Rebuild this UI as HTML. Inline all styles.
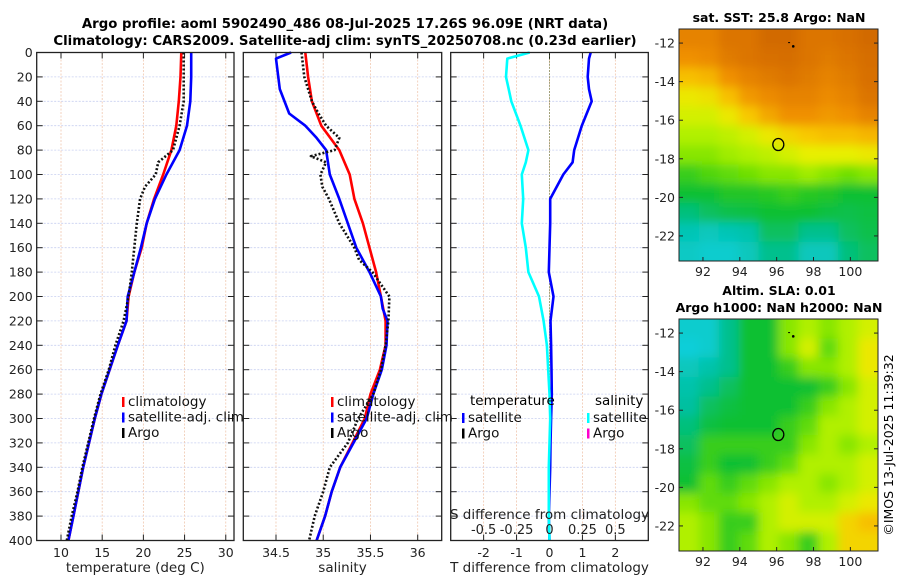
<!DOCTYPE html>
<html><head><meta charset="utf-8">
<style>
html,body{margin:0;padding:0;background:#fff;}
svg{display:block;font-family:"DejaVu Sans","Liberation Sans",sans-serif;}
</style></head>
<body>
<svg id="fig" width="900" height="580" viewBox="0 0 900 580" xmlns="http://www.w3.org/2000/svg">
<text x="345" y="28" text-anchor="middle" font-size="13.3" font-weight="bold">Argo profile: aoml 5902490_486 08-Jul-2025 17.26S 96.09E (NRT data)</text>
<text x="345" y="45" text-anchor="middle" font-size="13.3" font-weight="bold">Climatology: CARS2009. Satellite-adj clim: synTS_20250708.nc (0.23d earlier)</text>
<text x="779" y="22" text-anchor="middle" font-size="12.5" font-weight="bold">sat. SST: 25.8 Argo: NaN</text>
<text x="779" y="295" text-anchor="middle" font-size="12.5" font-weight="bold">Altim. SLA: 0.01</text>
<text x="779" y="312" text-anchor="middle" font-size="12.5" font-weight="bold">Argo h1000: NaN h2000: NaN</text>
<text transform="translate(893,445) rotate(-90)" text-anchor="middle" font-size="12.5">©IMOS 13-Jul-2025 11:39:32</text>
</svg>
<script>
// ---- data ----
const depthTicks = [0,20,40,60,80,100,120,140,160,180,200,220,240,260,280,300,320,340,360,380,400];
const tempTicks = [10,15,20,25,30];
const salTicks = [34.5,35,35.5,36];
const diffTTicks = [-2,-1,0,1,2];
const diffSTickLabels = ['-0.5','-0.25','0','0.25','0.5'];
const diffSTicks = [-0.5,-0.25,0,0.25,0.5];

const climDepth = [0,20,40,60,80,100,120,140,160,180,200,220,240,260,280,300,320,340,360,380,400];
const tempClim = [24.6,24.5,24.3,24.0,23.4,22.4,21.3,20.4,19.8,18.9,18.2,17.95,16.9,15.9,14.9,14.1,13.4,12.7,12.1,11.5,10.9];
const tempSat  = [25.8,25.8,25.7,25.3,24.4,22.8,21.4,20.4,19.7,18.9,18.1,17.95,16.9,15.9,14.9,14.1,13.4,12.7,12.1,11.5,10.9];
const argoTDepth = [0,20,40,60,80,90,100,110,120,140,160,180,200,220,240,260,280,300,320,340,360,380,400];
const tempArgo = [24.9,24.9,24.9,24.4,23.6,21.8,21.5,20.2,19.6,19.2,18.9,18.6,18.2,17.6,16.6,15.8,14.8,14.0,13.3,12.6,12.0,11.3,10.7];

const salClim = [34.81,34.84,34.88,34.98,35.17,35.28,35.33,35.42,35.49,35.56,35.61,35.66,35.66,35.60,35.50,35.44,35.31,35.18,35.09,35.02,34.93];
const salDepthSat = [0,5,30,50,60,70,80,100,120,140,160,180,200,210,220,240,260,280,300,320,340,360,380,400];
const salSat = [34.66,34.50,34.54,34.64,34.81,34.93,35.03,35.07,35.17,35.26,35.35,35.49,35.61,35.63,35.68,35.67,35.62,35.53,35.46,35.32,35.18,35.09,35.02,34.93];
const argoSDepth = [0,20,40,50,60,70,80,85,90,100,110,120,140,160,170,180,200,220,240,260,280,300,320,340,360,380,400];
const salArgo = [34.77,34.80,34.88,34.95,35.03,35.17,35.12,34.87,35.03,34.97,34.99,35.06,35.17,35.33,35.38,35.52,35.70,35.69,35.66,35.61,35.53,35.37,35.26,35.07,35.00,34.91,34.85];

const diffDepth = [0,5,20,30,40,60,80,90,100,120,140,160,180,200,220,240,260,280,300,320,340,360,380,400];
const diffTSat = [1.25,1.2,1.16,1.2,1.28,0.98,0.75,0.7,0.42,0.02,0.02,0.0,-0.02,0.12,0.03,0.05,0.06,0.07,0.05,0.03,0.02,0.0,-0.02,0.0];
const diffSSat = [-0.15,-0.32,-0.33,-0.31,-0.29,-0.22,-0.16,-0.18,-0.21,-0.20,-0.21,-0.18,-0.16,-0.08,-0.045,-0.02,-0.01,0.0,0.005,0.0,-0.005,-0.005,-0.005,0.0];

const sstGrid = [
[.85,.85,.9,.9,.95,.95,.9,.9,.92,.95],
[.8,.82,.88,.9,.92,.93,.9,.88,.9,.93],
[.7,.72,.8,.85,.88,.9,.88,.85,.88,.92],
[.6,.62,.7,.78,.82,.85,.85,.82,.85,.9],
[.55,.55,.6,.68,.75,.8,.8,.78,.8,.85],
[.5,.5,.52,.55,.6,.65,.68,.7,.7,.72],
[.45,.45,.48,.5,.52,.55,.58,.58,.58,.6],
[.35,.38,.4,.42,.45,.45,.48,.45,.42,.45],
[.3,.3,.32,.32,.33,.35,.33,.32,.3,.3],
[.22,.25,.27,.28,.3,.3,.3,.28,.27,.28],
[.12,.1,.12,.15,.25,.25,.2,.2,.25,.27],
[.08,.05,.05,.1,.2,.2,.1,.1,.22,.25]];
const slaGrid = [
[.05,.05,.2,.3,.3,.45,.5,.45,.5,.55],
[.02,.05,.2,.3,.3,.45,.55,.4,.5,.6],
[.1,.15,.2,.3,.3,.35,.45,.45,.5,.6],
[.15,.2,.25,.3,.3,.3,.3,.35,.45,.55],
[.18,.25,.28,.3,.3,.3,.35,.45,.5,.55],
[.22,.28,.3,.3,.3,.35,.4,.5,.5,.55],
[.25,.35,.35,.35,.35,.35,.45,.5,.45,.5],
[.28,.35,.3,.3,.35,.4,.5,.5,.5,.55],
[.3,.4,.35,.4,.45,.5,.5,.45,.5,.55],
[.45,.4,.4,.45,.5,.55,.5,.5,.55,.6],
[.5,.45,.35,.35,.5,.55,.55,.55,.65,.7],
[.5,.45,.35,.4,.5,.45,.35,.5,.65,.65]];
const lonTicks = [92,94,96,98,100];
const latTicks = [-12,-14,-16,-18,-20,-22];
const argoLon = 96.09, argoLat = -17.26;

// ---- drawing ----
const NS='http://www.w3.org/2000/svg';
const svg=document.getElementById('fig');
const FS=12.5, FT=13.5, FL=13.5;
function mk(tag,attrs,parent){const e=document.createElementNS(NS,tag);for(const k in attrs)e.setAttribute(k,attrs[k]);(parent||svg).appendChild(e);return e;}
const Y0=52.5,Y1=540.5;
function yD(d){return Y0+(d/400)*(Y1-Y0);}

function panel(x0,x1,xmin,xmax,name){
  const g=mk('g',{});
  
  
  return {g,x0,x1,xs:v=>x0+(v-xmin)/(xmax-xmin)*(x1-x0)};
}
function grid(p,xt,ylabels){
  depthTicks.forEach(d=>{
    const l=mk('line',{x1:p.x0,x2:p.x1,y1:yD(d),y2:yD(d),stroke:'#c8d0f0','stroke-width':0.8,'stroke-dasharray':'2,1.5'},p.g);
    
    
    mk('line',{x1:p.x0,x2:p.x0+6,y1:yD(d),y2:yD(d),stroke:'#222'},p.g);
    mk('line',{x1:p.x1-6,x2:p.x1,y1:yD(d),y2:yD(d),stroke:'#222'},p.g);
    if(ylabels){const t=mk('text',{x:p.x0-4,y:yD(d)+4.5,'text-anchor':'end','font-size':FS,fill:'#222'},p.g);t.textContent=d;
      
      }
  });
  xt.forEach(v=>{
    const x=p.xs(v);
    const l=mk('line',{x1:x,x2:x,y1:Y0,y2:Y1,stroke:'#f0c8b0','stroke-width':0.8,'stroke-dasharray':'2,1.5'},p.g);
    
    
    mk('line',{x1:x,x2:x,y1:Y1,y2:Y1-6,stroke:'#222'},p.g);
    mk('line',{x1:x,x2:x,y1:Y0,y2:Y0+6,stroke:'#222'},p.g);
  });
}
function frame(p){const r=mk('rect',{x:p.x0,y:Y0,width:p.x1-p.x0,height:Y1-Y0,fill:'none',stroke:'#222','stroke-width':1.3},p.g);
  
  }
function xlabels(p,vals,labels,y,fs){vals.forEach((v,i)=>{const t=mk('text',{x:p.xs(v),y:y,'text-anchor':'middle','font-size':fs||FS,fill:'#222'},p.g);t.textContent=labels?labels[i]:v;
  
  });}
function line(p,xs,ds,color,w,dash,name){
  const pts=xs.map((v,i)=>p.xs(v).toFixed(1)+','+yD(ds[i]).toFixed(1)).join(' ');
  const a={points:pts,fill:'none',stroke:color,'stroke-width':w,'stroke-linejoin':'round'};
  if(dash)a['stroke-dasharray']=dash;
  const e=mk('polyline',a,p.g);
  
  
}
function legend(p,x,y,items){
  items.forEach((it,i)=>{
    const yy=y+i*15.5;
    const m=mk('rect',{x:x,y:yy-9,width:2.5,height:10,fill:it[1]},p.g);
    
    
    if(it[0]){const t=mk('text',{x:x+6,y:yy,'font-size':FL,fill:'#111'},p.g);t.textContent=it[0];
      
      }
  });
}
function axTitle(p,txt,y,name){const t=mk('text',{x:(p.x0+p.x1)/2,y:y,'text-anchor':'middle','font-size':FT,fill:'#222'},p.g);t.textContent=txt;
  
  }

// Panel 1 temperature
const p1=panel(36.7,234,7.05,31,'temperature-panel');
grid(p1,tempTicks,true);
line(p1,tempClim,climDepth,'#ff0000',2.6,null,'temp-climatology-line');
line(p1,tempSat,climDepth,'#0000ff',2.6,null,'temp-satellite-line');
line(p1,tempArgo,argoTDepth,'#111',2.6,'2,2','temp-argo-line');
frame(p1);
xlabels(p1,tempTicks,null,557);
axTitle(p1,'temperature (deg C)',572,'temperature-axis-title');
legend(p1,122,406,[['climatology','#f00'],['satellite-adj. clim','#00f'],['Argo','#000']]);

// Panel 2 salinity
const p2=panel(243.3,441.7,34.154,36.254,'salinity-panel');
grid(p2,salTicks,false);
line(p2,salClim,climDepth,'#ff0000',2.6,null,'sal-climatology-line');
line(p2,salSat,salDepthSat,'#0000ff',2.6,null,'sal-satellite-line');
line(p2,salArgo,argoSDepth,'#111',2.6,'2,2','sal-argo-line');
frame(p2);
xlabels(p2,salTicks,null,557);
axTitle(p2,'salinity',572,'salinity-axis-title');
legend(p2,331,406,[['climatology','#f00'],['satellite-adj. clim','#00f'],['Argo','#000']]);

// Panel 3 differences
const p3=panel(450.7,648.3,-3,3,'difference-panel');
const p3s={xs:v=>p3.xs(v*4)};
grid(p3,diffTTicks,false);
const zl=mk('line',{x1:p3.xs(0),x2:p3.xs(0),y1:Y0,y2:Y1,stroke:'#556b2f','stroke-width':1,'stroke-dasharray':'1,2'},p3.g);


line(p3,diffTSat,diffDepth,'#0000ff',2.6,null,'temp-diff-satellite-line');
line({g:p3.g,xs:p3s.xs},diffSSat,diffDepth,'#00ffff',2.6,null,'sal-diff-satellite-line');
frame(p3);
xlabels(p3,diffTTicks,null,557);
axTitle(p3,'T difference from climatology',572,'t-diff-axis-title');
xlabels({g:p3.g,xs:p3s.xs},diffSTicks,diffSTickLabels,534,13);
axTitle(p3,'S difference from climatology',519,'s-diff-axis-title');
{const t=mk('text',{x:470,y:405,'font-size':FL},p3.g);t.textContent='temperature';
 
 
 const u=mk('text',{x:595,y:405,'font-size':FL},p3.g);u.textContent='salinity';
 
 }
legend(p3,462,422,[['satellite','#00f'],['Argo','#000']]);
legend(p3,587,422,[['satellite','#00ffff'],['Argo','#ff00cc']]);

// Maps
const cstops=[[0,[18,208,224]],[0.18,[0,192,160]],[0.3,[16,192,48]],[0.42,[112,224,0]],[0.5,[176,240,0]],[0.58,[232,240,0]],[0.68,[248,200,0]],[0.8,[240,144,0]],[0.92,[216,112,0]],[1,[200,96,0]]];
function cmap(v){for(let i=1;i<cstops.length;i++){if(v<=cstops[i][0]){const a=cstops[i-1],b=cstops[i],t=(v-a[0])/(b[0]-a[0]);return 'rgb('+a[1].map((c,k)=>Math.round(c+(b[1][k]-c)*t)).join(',')+')';}}return 'rgb(200,96,0)';}
function drawMap(y0,y1,gridData,name,fid){
  const x0=679,x1=878,lonMin=90.7,lonMax=101.5,latTop=-11.27,latBot=-23.3;
  const lx=v=>x0+(v-lonMin)/(lonMax-lonMin)*(x1-x0);
  const ly=v=>y0+(v-latTop)/(latBot-latTop)*(y1-y0);
  const g=mk('g',{});
  
  
  const defs=mk('defs',{},g);
  const cp=mk('clipPath',{id:fid+'c'},defs);mk('rect',{x:x0,y:y0,width:x1-x0,height:y1-y0},cp);
  const f=mk('filter',{id:fid,x:'-10%',y:'-10%',width:'120%',height:'120%'},defs);mk('feGaussianBlur',{stdDeviation:5},f);
  const cg=mk('g',{'clip-path':'url(#'+fid+'c)'},g);
  const ig=mk('g',{filter:'url(#'+fid+')'},cg);
  const rows=gridData.length,cols=gridData[0].length,cw=(x1-x0)/cols,ch=(y1-y0)/rows;
  gridData.forEach((row,r)=>row.forEach((v,c)=>{
    const e=mk('rect',{x:x0+c*cw-(c==0?10:0),y:y0+r*ch-(r==0?10:0),width:cw+1+(c==0||c==cols-1?10:0),height:ch+1+(r==0||r==rows-1?10:0),fill:cmap(v)},ig);
    
    
  }));
  const fr=mk('rect',{x:x0,y:y0,width:x1-x0,height:y1-y0,fill:'none',stroke:'#222','stroke-width':1},g);
  
  
  lonTicks.forEach(v=>{mk('line',{x1:lx(v),x2:lx(v),y1:y1,y2:y1-4,stroke:'#222'},g);
    const t=mk('text',{x:lx(v),y:y1+15,'text-anchor':'middle','font-size':FS,fill:'#222'},g);t.textContent=v;
    
    });
  latTicks.forEach(v=>{mk('line',{x1:x0,x2:x0+4,y1:ly(v),y2:ly(v),stroke:'#222'},g);mk('line',{x1:x1,x2:x1-4,y1:ly(v),y2:ly(v),stroke:'#222'},g);
    const t=mk('text',{x:x0-4,y:ly(v)+4.5,'text-anchor':'end','font-size':FS,fill:'#222'},g);t.textContent=v;
    
    });
  const c=mk('ellipse',{cx:lx(argoLon),cy:ly(argoLat),rx:5.5,ry:6,fill:'none',stroke:'#000','stroke-width':1.3},g);
  
  
  mk('circle',{cx:lx(96.9),cy:ly(-12.17),r:1.3,fill:'#000'},g);
  mk('rect',{x:lx(96.62),y:ly(-11.95),width:2,height:1,fill:'#000'},g);
}
drawMap(29,261,sstGrid,'sst-map','bsst');
drawMap(319,551,slaGrid,'sla-map','bsla');
</script>
</body></html>
